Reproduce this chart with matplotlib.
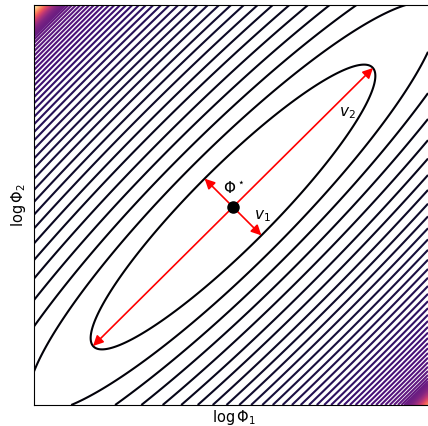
import numpy as np
import matplotlib.pyplot as plt

# minimum of the cost surface and the two eigen-directions (half-axes of the
# innermost drawn contour), in (log Phi1, log Phi2) coordinates
phi_star = [-0.005, -0.01]
v1 = [0.142, -0.142]
v2 = [0.70, 0.695]

# how fast the cost climbs with the quadratic form q, read off the spacing
# of the contours: slope far out, extra slope near the minimum, slow rise,
# and the steep wall in the two far corners
far_slope = 0.65
near_extra, near_scale = 0.35, 2.5
rise_amp, rise_mid, rise_width = 0.45, 30.0, 5.0
wall_amp, wall_mid, wall_width = 13.0, 44.5, 0.8


def sigmoid(t):
    return 1 / (1 + np.exp(-t))


def slope(s):
    d = far_slope + near_extra * np.exp(-(s - 1) / near_scale)
    d = d + rise_amp * sigmoid((s - rise_mid) / rise_width)
    d = d + wall_amp * sigmoid((s - wall_mid) / wall_width)
    return d


# only the part of the plane that ends up inside the picture
x = np.linspace(-1, 0.97, 1000)
y = np.linspace(-1, 1, 1000)
X, Y = np.meshgrid(x, y)

e1 = np.array(v1) / np.hypot(*v1)
e2 = np.array(v2) / np.hypot(*v2)
dx = X - phi_star[0]
dy = Y - phi_star[1]
u = dx * e1[0] + dy * e1[1]
w = dx * e2[0] + dy * e2[1]
q = (u / np.hypot(*v1))**2 + (w / np.hypot(*v2))**2

qs = np.linspace(0, q.max(), 20000)
ds = slope(qs)
Fq = np.concatenate([[0], np.cumsum((ds[1:] + ds[:-1]) / 2 * np.diff(qs))])
F = np.interp(q, qs, Fq)
F = F - np.interp(1.0, qs, Fq) + 1      # the drawn ellipse is level 1
levels = np.arange(1, int(F.max()) + 1)

fig = plt.figure(figsize=(4.28, 4.26), dpi=100)
ax = fig.add_axes([34 / 428, 21 / 426, 400 / 428, 400 / 426])
ax.contour(X, Y, F, levels=levels, cmap='magma', vmin=0, vmax=F.max(),
           linewidths=1.5)

arrow = dict(arrowstyle='<|-|>', color='red', lw=1.2, mutation_scale=15,
             shrinkA=0, shrinkB=0)
p = np.array(phi_star)
ax.annotate('', xy=p + v2, xytext=p - v2, arrowprops=arrow)
ax.annotate('', xy=p + v1, xytext=p - v1, arrowprops=arrow)
ax.plot(*phi_star, 'o', color='black', markersize=8, zorder=5)

ax.text(p[0] + 0.005, p[1] + 0.095, r'$\Phi^\star$', fontsize=11,
        ha='center', va='center')
ax.text(p[0] + 0.145, p[1] - 0.045, r'$v_1$', fontsize=11,
        ha='center', va='center')
ax.text(p[0] + 0.57, p[1] + 0.47, r'$v_2$', fontsize=11,
        ha='center', va='center')

ax.set_xlim(-1, 1)
ax.set_ylim(-1, 1)
ax.set_xticks([])
ax.set_yticks([])
ax.set_xlabel(r'$\log\Phi_1$', fontsize=10.5, labelpad=2)
ax.set_ylabel(r'$\log\Phi_2$', fontsize=10.5, labelpad=4)

fig.savefig('out.png', dpi=100)
